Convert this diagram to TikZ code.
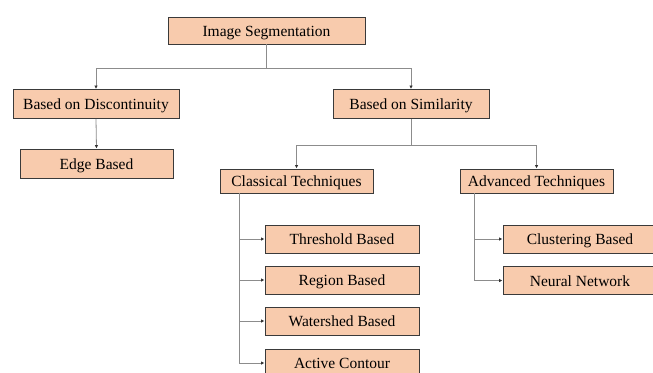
\documentclass[tikz,border=0pt]{standalone}
\usepackage{fontspec}
\setmainfont{Liberation Serif}
\usetikzlibrary{arrows.meta}
\definecolor{boxfill}{HTML}{F8CBAD}
\definecolor{boxline}{HTML}{3A3A3A}
\definecolor{conn}{HTML}{8C8C8C}
\begin{document}
\begin{tikzpicture}[x=1pt,y=-1pt,
  box/.style={draw=boxline,fill=boxfill,line width=0.9pt,inner sep=0pt,
    text height=12pt,text depth=0.5pt,
    font=\fontsize{15.5}{18}\selectfont,text=black},
  wide/.style={box,minimum width=#1pt},
  conn/.style={draw=conn,line width=0.8pt},
  arr/.style={conn,-{Latex[length=3.5pt,width=3.5pt,color=black!80]}}]
\useasboundingbox (0,0) rectangle (653,372);
\clip (0,0) rectangle (653,372);
\fill[white] (0,0) rectangle (653,372);
% nodes
\node[wide=197,minimum height=27pt] (seg) at (266.5,30.5) {Image Segmentation};
\node[wide=166,minimum height=29pt] (disc) at (96,104) {Based on Discontinuity};
\node[wide=156,minimum height=29pt] (sim) at (411,104) {Based on Similarity};
\node[wide=153,minimum height=29pt] (edge) at (96.5,163.5) {Edge Based};
\node[wide=153,minimum height=24pt] (cls) at (296.5,181) {Classical Techniques};
\node[wide=153,minimum height=24pt] (adv) at (536.5,181) {Advanced Techniques};
\node[wide=154,minimum height=28pt] (thr) at (342,239) {Threshold Based};
\node[wide=154,minimum height=28pt] (reg) at (342,280) {Region Based};
\node[wide=154,minimum height=28pt] (wat) at (342,321) {Watershed Based};
\node[wide=154,minimum height=28pt] (act) at (342,363) {Active Contour};
\node[wide=154,minimum height=28pt] (clu) at (580,239) {Clustering Based};
\node[wide=154,minimum height=28pt] (neu) at (580,280.5) {Neural Network};
% junction coordinates
\coordinate (j1) at (266.5,68);
\coordinate (j2) at (411,145);
\coordinate (cx) at (239,0);
\coordinate (ax) at (474,0);
% connectors
\draw[conn] (seg.south) -- (j1);
\draw[arr] (j1) -| (disc.north);
\draw[arr] (j1) -| (sim.north);
\draw[arr] (disc.south) -- (edge.north);
\draw[conn] (sim.south) -- (j2);
\draw[arr] (j2) -| (cls.north);
\draw[arr] (j2) -| (adv.north);
\draw[conn] (cls.south -| cx) -- (act.west -| cx);
\draw[arr] (thr.west -| cx) -- (thr.west);
\draw[arr] (reg.west -| cx) -- (reg.west);
\draw[arr] (wat.west -| cx) -- (wat.west);
\draw[arr] (act.west -| cx) -- (act.west);
\draw[conn] (adv.south -| ax) -- (neu.west -| ax);
\draw[arr] (clu.west -| ax) -- (clu.west);
\draw[arr] (neu.west -| ax) -- (neu.west);
\end{tikzpicture}
\end{document}
